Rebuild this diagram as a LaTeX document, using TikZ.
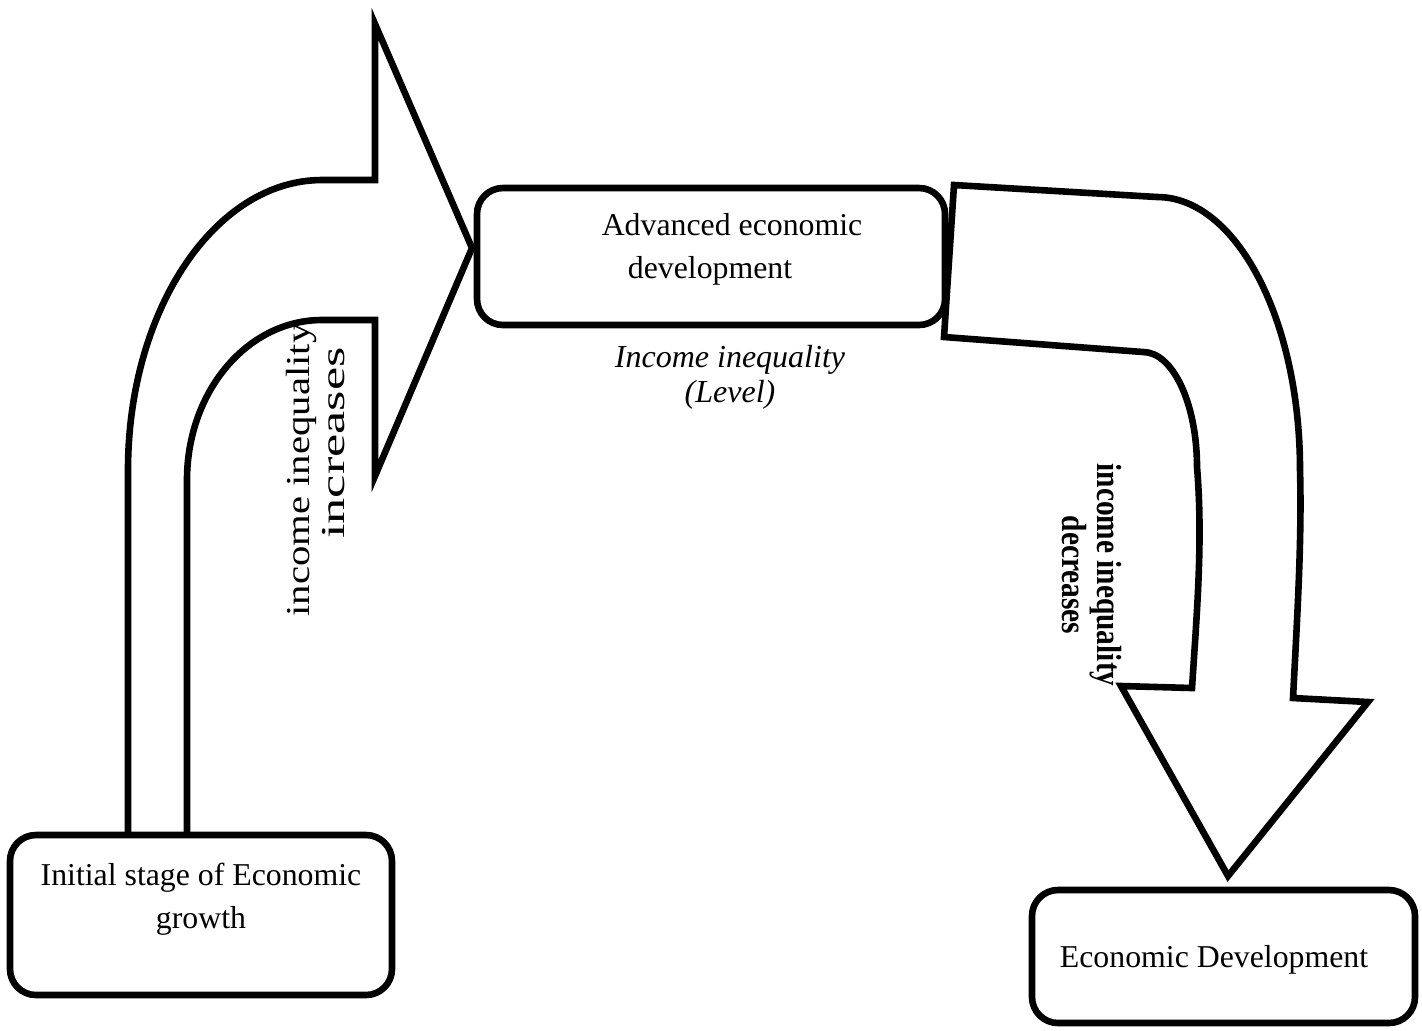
\documentclass[tikz,border=0pt]{standalone}
\usepackage{fontspec}
\setmainfont{Liberation Serif}
\newfontfamily\widefont[FakeStretch=1.216]{Liberation Serif}
\newfontfamily\widerfont[FakeStretch=1.56]{Liberation Serif}
\newfontfamily\narrowfont[FakeStretch=0.84]{Liberation Serif}
\begin{document}
\begin{tikzpicture}[x=0.5pt,y=-0.5pt]
\tikzset{
  stage/.style={draw, line width=3.3pt, rounded corners=13pt, fill=white, inner sep=0pt},
  bigarrow/.style={draw, line width=3.3pt, line join=miter, fill=white},
  boxtext/.style={font=\fontsize{15.9}{21.5}\selectfont, align=center, inner sep=0pt},
  leveltext/.style={font=\fontsize{16}{17.5}\selectfont\itshape, align=center, inner sep=0pt},
  uptext/.style={font=\widefont\fontsize{16.75}{17.5}\selectfont, align=center, inner sep=0pt, rotate=90},
  downtext/.style={font=\narrowfont\bfseries\fontsize{17.5}{17.5}\selectfont, align=center, inner sep=0pt, rotate=-90}
}
\useasboundingbox (0,0) rectangle (1422,1030);

% rising arrow (left)
\draw[bigarrow] (128,833) -- (128,470)
  .. controls (128,310) and (215,180) .. (322,180)
  -- (375,180) -- (375,24) -- (472,248) -- (375,476) -- (375,320) -- (322,320)
  .. controls (247,320) and (187,392) .. (187,480)
  -- (187,833);

% falling arrow (right)
\draw[bigarrow] (954,185) -- (1157,197)
  .. controls (1236,197) and (1300,319) .. (1300,470)
  .. controls (1302,540) and (1297,620) .. (1293,698)
  -- (1368,702) -- (1228,876) -- (1121,686) -- (1192,688)
  .. controls (1197,610) and (1203,540) .. (1197,467)
  .. controls (1197,404) and (1173,352) .. (1143,352)
  -- (944,337) -- cycle;

% stage boxes
\node[stage, minimum width=191pt, minimum height=80pt] (init) at (201,915) {};
\node[stage, minimum width=234pt, minimum height=68.5pt] (adv) at (711,256.5) {};
\node[stage, minimum width=191.5pt, minimum height=66.5pt] (dev) at (1223.5,956.5) {};

% texts
\node[boxtext] (initT) at (201,899) {Initial stage of Economic\\growth};
\node[boxtext] (advT) at (732,249) {Advanced economic\\development\hspace*{22pt}};
\node[boxtext, anchor=base] (devT) at (1214,967) {Economic Development};
\node[leveltext] (level) at (730,377.5) {Income inequality\\(Level)};
\node[uptext] (incT) at (316,470) {income inequality\\\hspace*{27pt}{\widerfont increases}};
\node[downtext] (decT) at (1091.5,575) {income inequality\\decreases};
\end{tikzpicture}
\end{document}
